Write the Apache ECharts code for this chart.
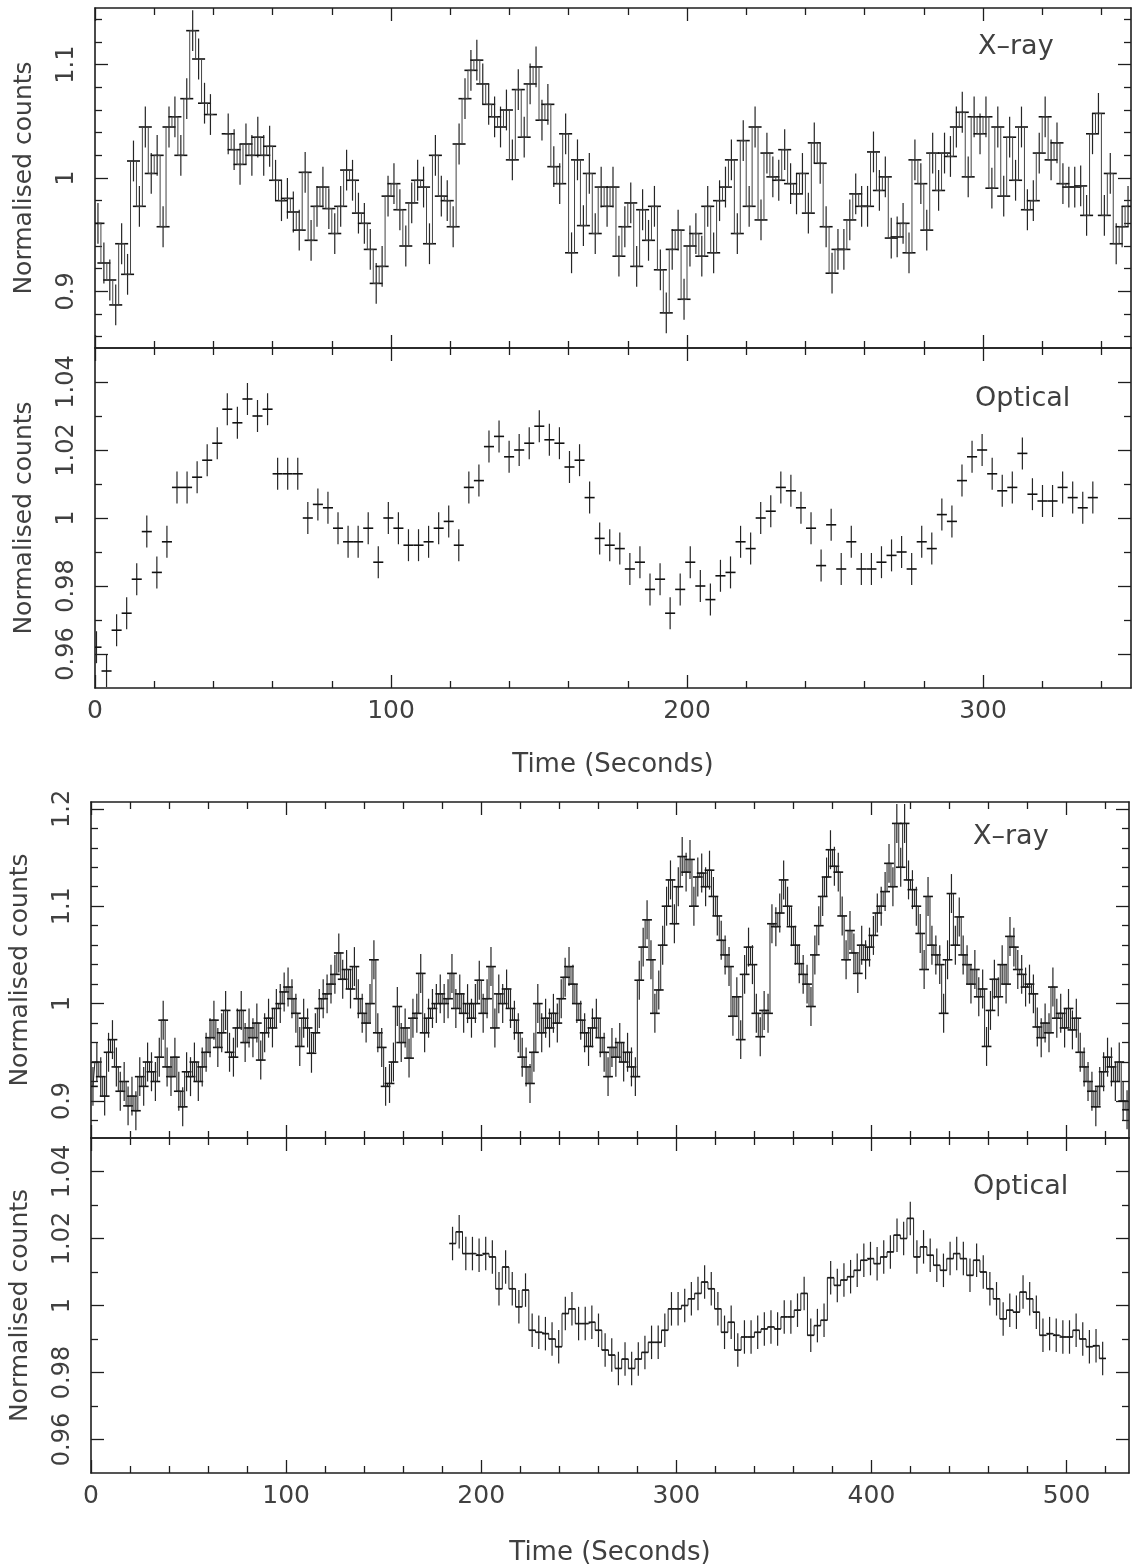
<!DOCTYPE html>
<html>
<head>
<meta charset="utf-8">
<title>X-ray and optical light curves</title>
<script src="https://cdn.jsdelivr.net/npm/echarts@6/dist/echarts.min.js"></script>
<style>
  html, body { margin: 0; padding: 0; background: #fff; }
  #chart { width: 1139px; height: 1564px; }
</style>
</head>
<body>
<div id="chart"></div>
<script>
// run 1 (0-350 s): X-ray in 2 s bins, optical in 3.4 s bins
const xray1Counts = [
  0.96, 0.925, 0.91, 0.888, 0.942, 0.915, 1.015, 0.975, 1.045, 1.004,
  1.02, 0.957, 1.045, 1.054, 1.02, 1.07, 1.13, 1.105, 1.066, 1.056,
  null, null, 1.039, 1.025, 1.012, 1.03, 1.02, 1.036, 1.02, 1.028,
  0.998, 0.98, 0.982, 0.97, 0.954, 1.005, 0.945, 0.975, 0.992, 0.973,
  0.951, 0.975, 1.007, 0.998, 0.969, 0.96, 0.937, 0.907, 0.922, 0.984,
  0.995, 0.972, 0.94, 0.978, 0.998, 0.992, 0.942, 1.02, 0.984, 0.98,
  0.957, 1.03, 1.07, 1.095, 1.104, 1.083, 1.065, 1.054, 1.045, 1.06,
  1.016, 1.078, 1.036, 1.083, 1.098, 1.051, 1.065, 1.01, 0.995, 1.039,
  0.934, 1.016, 0.958, 1.004, 0.951, 0.992, 0.975, 0.992, 0.931, 0.957,
  0.978, 0.922, 0.972, 0.945, 0.975, 0.919, 0.881, 0.937, 0.954, 0.893,
  0.94, 0.951, 0.931, 0.975, 0.934, 0.98, 0.992, 1.016, 0.951, 1.033,
  0.975, 1.045, 0.963, 1.022, 1.001, 0.998, 1.025, 0.995, 0.986, 1.004,
  0.969, 1.031, 1.013, 0.957, 0.916, 0.937, 0.937, 0.963, 0.986, 0.975,
  0.975, 1.023, 0.989, 1.001, 0.947, 0.948, 0.96, 0.934, 1.016, 0.995,
  0.954, 1.022, 0.989, 1.022, 1.019, 1.045, 1.058, 1.001, 1.054, 1.039,
  1.054, 0.991, 1.045, 0.984, 1.036, 0.998, 1.045, 0.972, 0.98, 1.022,
  1.054, 1.016, 1.031, 0.995, 0.992, 0.992, 0.993, 0.967, 1.039, 1.057,
  0.967, 1.004, 0.942, 0.957, 0.975
];
const optical1Counts = [
  0.962, 0.955, 0.967, 0.972, 0.982, 0.996, 0.984, 0.993, 1.009, 1.009,
  1.012, 1.017, 1.022, 1.032, 1.028, 1.035, 1.03, 1.032, 1.013, 1.013,
  1.013, 1.0, 1.004, 1.003, 0.997, 0.993, 0.993, 0.997, 0.987, 1.0,
  0.997, 0.992, 0.992, 0.993, 0.997, 0.999, 0.992, 1.009, 1.011, 1.021,
  1.024, 1.018, 1.02, 1.022, 1.027, 1.023, 1.022, 1.015, 1.017, 1.006,
  0.994, 0.992, 0.991, 0.985, 0.987, 0.979, 0.982, 0.972, 0.979, 0.987,
  0.98, 0.976, 0.983, 0.984, 0.993, 0.991, 1.0, 1.002, 1.009, 1.008,
  1.003, 0.997, 0.986, 0.998, 0.985, 0.993, 0.985, 0.985, 0.987, 0.989,
  0.99, 0.985, 0.993, 0.991, 1.001, 0.999, 1.011, 1.018, 1.02, 1.013,
  1.008, 1.009, 1.019, 1.007, 1.005, 1.005, 1.009, 1.006, 1.003, 1.006
];

// run 2 (0-532 s)
const xray2Counts = [
  0.915, 0.94, 0.925, 0.905, 0.95, 0.963, 0.935, 0.91, 0.92, 0.895,
  0.905, 0.89, 0.925, 0.915, 0.94, 0.93, 0.92, 0.945, 0.983, 0.935,
  0.925, 0.945, 0.91, 0.894, 0.93, 0.925, 0.94, 0.92, 0.935, 0.95,
  0.965, 0.983, 0.955, 0.97, 0.993, 0.95, 0.945, 0.975, 0.993, 0.96,
  0.975, 0.965, 0.98, 0.942, 0.97, 0.985, 0.975, 0.995, 1.0, 1.012,
  1.017, 1.005, 0.99, 0.956, 0.985, 0.975, 0.949, 0.97, 0.995, 1.005,
  1.01, 1.02, 1.03, 1.052, 1.025, 1.035, 1.015, 1.038, 1.005, 0.99,
  0.98, 1.0, 1.045, 0.97, 0.955, 0.915, 0.918, 0.94, 0.997, 0.96,
  0.975, 0.944, 0.985, 0.99, 1.031, 0.97, 0.985, 0.995, 1.0, 1.01,
  1.0, 1.005, 1.031, 0.995, 1.01, 0.99, 1.0, 0.985, 1.0, 1.024,
  0.99, 1.005, 1.038, 0.975, 1.01, 1.0, 1.015, 0.995, 0.983, 0.97,
  0.945, 0.935, 0.918, 0.95, 1.0, 0.97, 0.985, 0.975, 0.99, 0.98,
  1.005, 1.027, 1.038, 1.02, 1.0, 0.983, 0.97, 0.956, 0.975, 0.985,
  0.965, 0.95, 0.925, 0.955, 0.945, 0.96, 0.94, 0.95, 0.935, 0.925,
  1.024, 1.058, 1.086, 1.045, 0.99, 1.014, 1.06, 1.1, 1.127, 1.082,
  1.12, 1.151, 1.135, 1.148, 1.1, 1.13, 1.134, 1.12, 1.137, 1.11,
  1.09, 1.065, 1.05, 1.038, 0.987, 1.007, 0.963, 1.03, 1.058, 1.04,
  0.99, 0.966, 0.993, 0.99, 1.082, 1.079, 1.093, 1.127, 1.1, 1.079,
  1.06, 1.041, 1.03, 1.02, 0.997, 1.05, 1.08, 1.11, 1.13, 1.158,
  1.141, 1.135, 1.09, 1.045, 1.075, 1.052, 1.031, 1.06, 1.045, 1.058,
  1.07, 1.093, 1.1, 1.115, 1.144, 1.12, 1.185, 1.14, 1.185, 1.127,
  1.117, 1.1, 1.072, 1.035, 1.11, 1.06, 1.05, 1.04, 0.99, 1.045,
  1.113, 1.06, 1.089, 1.05, 1.04, 1.02, 1.035, 1.007, 1.015, 0.956,
  0.993, 1.025, 1.007, 1.04, 1.02, 1.069, 1.058, 1.035, 1.03, 1.017,
  1.02, 1.01, 0.976, 0.965, 0.98, 0.97, 1.017, 0.985, 0.99, 0.975,
  0.995, 0.973, 0.985, 0.95, 0.935, 0.92, 0.91, 0.894, 0.915, 0.93,
  0.945, 0.935, 0.92, 0.94, 0.9, 0.891
];
const optical2Counts = [
  1.0185, 1.022, 1.0155, 1.0155, 1.015, 1.0155, 1.0145, 1.005, 1.0115, 1.005,
  0.9996, 1.0046, 0.9926, 0.992, 0.9916, 0.990, 0.9877, 0.9976, 0.999, 0.9946,
  0.9946, 0.995, 0.9926, 0.9867, 0.9852, 0.9812, 0.984, 0.9812, 0.984, 0.986,
  0.989, 0.989, 0.9926, 0.999, 0.999, 1.0, 1.002, 1.0036, 1.007, 1.005,
  0.999, 0.992, 0.995, 0.9867, 0.9906, 0.9906, 0.992, 0.993, 0.9936, 0.993,
  0.9966, 0.9966, 0.9986, 1.0036, 0.9911, 0.994, 0.9956, 1.0083, 1.006, 1.0076,
  1.0086, 1.0105, 1.0135, 1.014, 1.0125, 1.0145, 1.016, 1.021, 1.020, 1.026,
  1.0145, 1.0175, 1.015, 1.012, 1.0105, 1.014, 1.0155, 1.014, 1.009, 1.0135,
  1.01, 1.005, 1.002, 0.996, 0.9986, 0.998, 1.004, 1.002, 0.998, 0.9911,
  0.9916, 0.9911, 0.9906, 0.9906, 0.9926, 0.990, 0.9877, 0.988, 0.9842
];

// bin centres (uniform bins)
const xray1Times = xray1Counts.map((v, i) => 1 + 2 * i);
const optical1Times = optical1Counts.map((v, i) => 0.5 + 3.4 * i);
const xray2Times = xray2Counts.map((v, i) => 1 + 2 * i);
const optical2Times = optical2Counts.map((v, i) => 185.3 + 3.4 * i);

// tick values
const timeMajor1 = [0, 100, 200, 300];
const timeMinor1 = [20, 40, 60, 80, 120, 140, 160, 180, 220, 240, 260, 280, 320, 340];
const timeMajor2 = [0, 100, 200, 300, 400, 500];
const timeMinor2 = [20, 40, 60, 80, 120, 140, 160, 180, 220, 240, 260, 280,
  320, 340, 360, 380, 420, 440, 460, 480, 520];
const xrayMajor1 = [0.9, 1, 1.1];
const xrayMinor1 = [0.86, 0.88, 0.92, 0.94, 0.96, 0.98, 1.02, 1.04, 1.06, 1.08, 1.12, 1.14];
const xrayMajor2 = [0.9, 1, 1.1, 1.2];
const xrayMinor2 = [0.88, 0.92, 0.94, 0.96, 0.98, 1.02, 1.04, 1.06, 1.08, 1.12, 1.14, 1.16, 1.18];
const opticalMajor = [0.96, 0.98, 1, 1.02, 1.04];
const opticalMinor = [0.97, 0.99, 1.01, 1.03];

const ink = '#1e1e1e';
const textColor = '#404040';
const font = 'DejaVu Sans';

function pairs(times, vals) {
  return times.map((t, i) => [t, vals[i] == null ? '-' : vals[i]]);
}

function timeAxes(grid, max, majors, minors, withLabels, nameGap) {
  const base = { type: 'value', gridIndex: grid, min: 0, max: max, splitLine: { show: false } };
  const line = { show: true, onZero: false, lineStyle: { color: ink, width: 1.6 } };
  const tick = (vals, len) => ({ show: true, inside: true, length: len, customValues: vals, lineStyle: { color: ink, width: 1.3 } });
  return [
    Object.assign({}, base, {
      position: 'bottom', axisLine: line, axisTick: tick(majors, 13),
      axisLabel: withLabels
        ? { show: true, customValues: majors, margin: 11, color: textColor, fontSize: 25, fontFamily: font }
        : { show: false },
      name: withLabels ? 'Time (Seconds)' : '', nameLocation: 'middle', nameGap: nameGap,
      nameTextStyle: { color: textColor, fontSize: 26, fontFamily: font }
    }),
    Object.assign({}, base, { position: 'bottom', axisLine: { show: false, onZero: false }, axisTick: tick(minors, 7), axisLabel: { show: false } }),
    Object.assign({}, base, { position: 'top', axisLine: line, axisTick: tick(majors, 13), axisLabel: { show: false } }),
    Object.assign({}, base, { position: 'top', axisLine: { show: false, onZero: false }, axisTick: tick(minors, 7), axisLabel: { show: false } })
  ];
}

function countAxes(grid, min, max, majors, minors) {
  const base = { type: 'value', gridIndex: grid, min: min, max: max, splitLine: { show: false } };
  const line = { show: true, onZero: false, lineStyle: { color: ink, width: 1.6 } };
  const tick = (vals, len) => ({ show: true, inside: true, length: len, customValues: vals, lineStyle: { color: ink, width: 1.3 } });
  return [
    Object.assign({}, base, {
      position: 'left', axisLine: line, axisTick: tick(majors, 13),
      axisLabel: { show: true, customValues: majors, rotate: 90, margin: 16, color: textColor, fontSize: 24, fontFamily: font },
      name: 'Normalised counts', nameLocation: 'middle', nameGap: 58, nameRotate: 90,
      nameTextStyle: { color: textColor, fontSize: 25, fontFamily: font }
    }),
    Object.assign({}, base, { position: 'left', axisLine: { show: false, onZero: false }, axisTick: tick(minors, 7), axisLabel: { show: false } }),
    Object.assign({}, base, { position: 'right', axisLine: line, axisTick: tick(majors, 13), axisLabel: { show: false } }),
    Object.assign({}, base, { position: 'right', axisLine: { show: false, onZero: false }, axisTick: tick(minors, 7), axisLabel: { show: false } })
  ];
}

function errorBars(halfWidth, err) {
  return function (params, api) {
    const t = api.value(0);
    const v = api.value(1);
    if (isNaN(v)) return;
    const l = api.coord([t - halfWidth, v]);
    const r = api.coord([t + halfWidth, v]);
    const lo = api.coord([t, v - err]);
    const hi = api.coord([t, v + err]);
    return {
      type: 'group',
      children: [
        { type: 'line', shape: { x1: lo[0], y1: lo[1], x2: hi[0], y2: hi[1] }, style: { stroke: '#252525', lineWidth: 1.2 } },
        { type: 'line', shape: { x1: l[0], y1: l[1], x2: r[0], y2: r[1] }, style: { stroke: '#111', lineWidth: 1.6 } }
      ]
    };
  };
}

function barSeries(axisIdx, data, halfWidth, err) {
  return {
    type: 'custom', xAxisIndex: axisIdx, yAxisIndex: axisIdx, clip: true,
    renderItem: errorBars(halfWidth, err), data: data, silent: true
  };
}

function stepSeries(axisIdx, data, color) {
  return {
    type: 'line', xAxisIndex: axisIdx, yAxisIndex: axisIdx, step: 'middle', data: data,
    showSymbol: false, symbol: 'none', connectNulls: false, silent: true,
    lineStyle: { color: color, width: 1 }
  };
}

const chart = echarts.init(document.getElementById('chart'));

const xray1 = pairs(xray1Times, xray1Counts);
const optical1 = pairs(optical1Times, optical1Counts);
const xray2 = pairs(xray2Times, xray2Counts);
const optical2 = pairs(optical2Times, optical2Counts);

const option = {
  backgroundColor: '#fff',
  animation: false,
  grid: [
    { left: 95, top: 8, width: 1036, height: 340, outerBoundsMode: 'none' },
    { left: 95, top: 348, width: 1036, height: 340, outerBoundsMode: 'none' },
    { left: 91, top: 802, width: 1038, height: 336, outerBoundsMode: 'none' },
    { left: 91, top: 1138, width: 1038, height: 335, outerBoundsMode: 'none' }
  ],
  xAxis: [].concat(
    timeAxes(0, 350, timeMajor1, timeMinor1, false, 0),
    timeAxes(1, 350, timeMajor1, timeMinor1, true, 64),
    timeAxes(2, 532, timeMajor2, timeMinor2, false, 0),
    timeAxes(3, 532, timeMajor2, timeMinor2, true, 67)
  ),
  yAxis: [].concat(
    countAxes(0, 0.85, 1.15, xrayMajor1, xrayMinor1),
    countAxes(1, 0.95, 1.05, opticalMajor, opticalMinor),
    countAxes(2, 0.862, 1.207, xrayMajor2, xrayMinor2),
    countAxes(3, 0.95, 1.05, opticalMajor, opticalMinor)
  ),
  graphic: [
    { type: 'text', left: 978, top: 33, style: { text: 'X\u2013ray', fill: textColor, font: '27px "DejaVu Sans"' } },
    { type: 'text', left: 975, top: 385, style: { text: 'Optical', fill: textColor, font: '27px "DejaVu Sans"' } },
    { type: 'text', left: 973, top: 823, style: { text: 'X\u2013ray', fill: textColor, font: '27px "DejaVu Sans"' } },
    { type: 'text', left: 973, top: 1173, style: { text: 'Optical', fill: textColor, font: '27px "DejaVu Sans"' } }
  ],
  series: [
    stepSeries(0, xray1, '#444'),
    barSeries(0, xray1, 2.2, 0.018),
    barSeries(4, optical1, 1.7, 0.0047),
    stepSeries(8, xray2, '#222'),
    barSeries(8, xray2, 2.5, 0.02),
    stepSeries(12, optical2, '#222'),
    barSeries(12, optical2, 1.7, 0.005)
  ]
};

chart.setOption(option);
</script>
</body>
</html>
